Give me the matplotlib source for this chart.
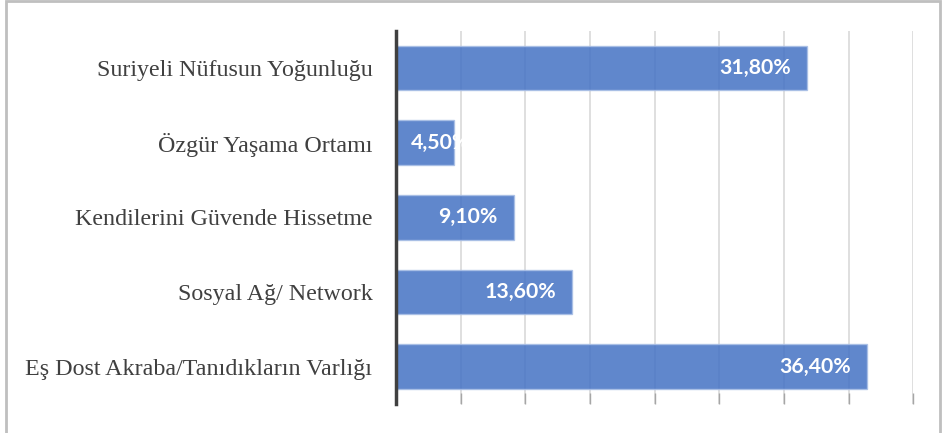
import matplotlib
matplotlib.use("Agg")
import matplotlib.pyplot as plt
from matplotlib.patches import Rectangle
from matplotlib.transforms import offset_copy

categories = ["Suriyeli Nüfusun Yoğunluğu", "Özgür Yaşama Ortamı", "Kendilerini Güvende Hissetme",
              "Sosyal Ağ/ Network", "Eş Dost Akraba/Tanıdıkların Varlığı"]
values = [31.8, 4.5, 9.1, 13.6, 36.4]
value_labels = ["31,80%", "4,50%", "9,10%", "13,60%", "36,40%"]
x_ticks = [0, 5, 10, 15, 20, 25, 30, 35, 40]

fig = plt.figure(figsize=(9.42, 4.33), dpi=100)
ax = fig.add_axes([396/942, 1-404/433, (913.3-396)/942, (404-30.7)/433])

ypos = list(range(len(categories)))[::-1]
bars = ax.barh(ypos, values, height=0.6, color="#4472C4", alpha=0.85,
               edgecolor="#A9BFE6", linewidth=1, zorder=3)

ax.set_xlim(0, 40)
ax.set_ylim(-0.5, len(categories) - 0.5)
ax.set_xticks(x_ticks)
ax.set_xticklabels([])
ax.tick_params(axis="x", direction="in", length=8, width=1, color="#A6A6A6")
ax.grid(axis="x", color="#D9D9D9", linewidth=1.2, zorder=0)
ax.set_axisbelow(True)
ax.set_yticks(ypos)
ax.set_yticklabels(categories, family="Liberation Serif", fontsize=17.3, color="#404040")
ax.tick_params(axis="y", length=0, pad=17)
for s in ["top", "right", "bottom"]:
    ax.spines[s].set_visible(False)
ax.spines["left"].set_color("#404040")
ax.spines["left"].set_linewidth(2.5)
ax.spines["left"].set_zorder(5)

for bar, y, v, lab in zip(bars, ypos, values, value_labels):
    if v < 6:
        tr = offset_copy(ax.transData, fig=fig, x=15, y=0, units="dots")
        t = ax.text(0, y, lab, transform=tr, ha="left", va="center", color="white",
                    fontsize=15.3, fontweight="bold", family="Lato", zorder=6)
        t.set_clip_path(bar)
    else:
        tr = offset_copy(ax.transData, fig=fig, x=-16, y=0, units="dots")
        ax.text(v, y, lab, transform=tr, ha="right", va="center", color="white",
                fontsize=15.3, fontweight="bold", family="Lato", zorder=6)

fig.patches.append(Rectangle((6/942, -0.05), (940-6)/942, 1.05 - 1.5/433, transform=fig.transFigure,
                             fill=False, edgecolor="#BFBFBF", linewidth=2))

fig.savefig("out.png", dpi=100)
